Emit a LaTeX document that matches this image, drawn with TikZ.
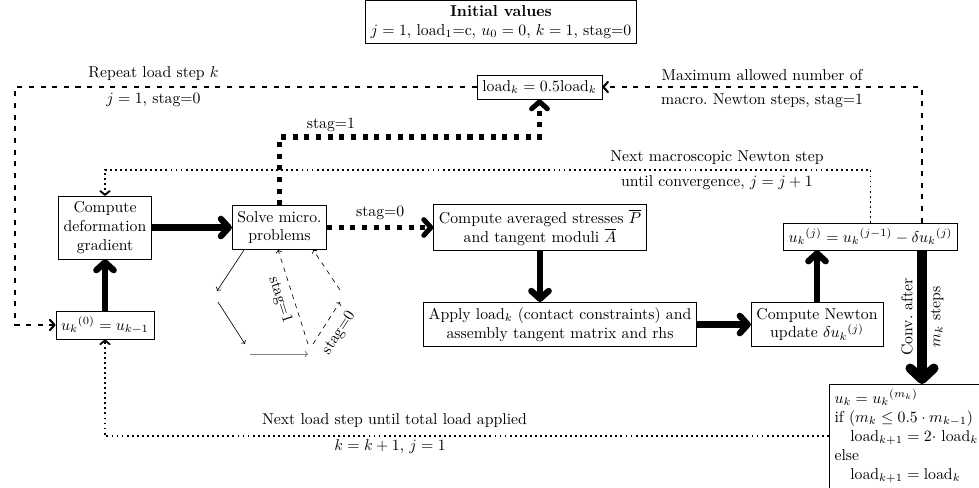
\documentclass[tikz,border=0pt]{standalone}
\usetikzlibrary{arrows.meta,calc}
\begin{document}
\begin{tikzpicture}[x=0.635pt, y=-0.635pt,
  box/.style={draw, thin, align=center, fill=white},
  flow/.style={line width=4pt, -{Straight Barb[length=5pt, width=11pt, round]}},
  convflow/.style={line width=6pt, -{Straight Barb[length=7pt, width=15pt, round]}},
  stagline/.style={line width=3.2pt, dash pattern=on 3.2pt off 4.2pt, -{Straight Barb[length=4.5pt, width=10pt, round]}},
  repeatline/.style={line width=1.3pt, dash pattern=on 3.2pt off 4.2pt, -{Straight Barb[length=3pt, width=6.5pt, round]}},
  loopline/.style={line width=1.2pt, dash pattern=on 1.2pt off 2pt, -{Straight Barb[length=2.5pt, width=6pt, round]}},
  microline/.style={thin, -{To[length=2pt, width=4pt]}},
  microdash/.style={thin, dashed, -{To[length=2pt, width=4pt]}}
]
\useasboundingbox (0,0) rectangle (979,487);

% process boxes
\node[box] (init) at (501,22) {\textbf{Initial values}\\ $j=1$, load$_1$=c, $u_0=0$, $k=1$, stag=0};
\node[box] (loadk) at (539.5,87) {$\mathrm{load}_k = 0.5\mathrm{load}_k$};
\node[box] (deform) at (105,227.5) {Compute\\deformation\\gradient};
\node[box] (solve) at (279.5,227.5) {Solve micro.\\problems};
\node[box] (avg) at (540,227.5) {Compute averaged stresses $\overline{P}$\\and tangent moduli $\overline{A}$};
\node[box] (apply) at (560,324.5) {Apply load$_k$ (contact constraints) and\\assembly tangent matrix and rhs};
\node[box] (newton) at (817,324.5) {Compute Newton\\update $\delta {u_k}^{(j)}$};
\node[box] (ukj) at (870.5,236.5) {${u_k}^{(j)} = {u_k}^{(j-1)} - \delta {u_k}^{(j)}$};
\node[box] (u0) at (105,325) {${u_k}^{(0)} = u_{k-1}$};
\node[box, align=left, anchor=north west, text width=100pt] (final) at (829,384)
  {$u_k = {u_k}^{(m_k)}$\\
   if $(m_k \le 0.5\cdot m_{k-1})$\\
   \hspace*{1em}$\mathrm{load}_{k+1} = 2\cdot$ load$_k$\\
   else\\
   \hspace*{1em}$\mathrm{load}_{k+1} = \mathrm{load}_k$};

% helper coordinates for routing
\coordinate (cx) at (922,0);
\coordinate (lx) at (15,0);
\coordinate (s1) at (400,137);
\coordinate (m1) at (500,170);

% main flow
\draw[flow] (u0) -- (deform);
\draw[flow] (deform) -- (solve);
\draw[flow] (avg.south) -- (avg.south |- apply.north);
\draw[flow] (apply) -- (newton);
\draw[flow] (newton.north) -- (newton.north |- ukj.south);
\draw[convflow] (ukj.south -| cx) -- coordinate (cmid) (final.north -| cx);
\node[rotate=90] at ($(cmid)+(-15,0)$) {Conv.\ after};
\node[rotate=90] at ($(cmid)+(15,0)$) {$m_k$ steps};

% staggered branches
\draw[stagline] (solve) -- node[above] {stag=0} (avg);
\draw[stagline] (solve.north) |- (s1) -| (loadk.south);
\node[above] at (331,137) {stag=1};

% load step control
\draw[repeatline] (ukj.north -| cx) |- (loadk.east)
  node[pos=0.75, above] {Maximum allowed number of}
  node[pos=0.75, below] {macro.\ Newton steps, stag=1};
\draw[repeatline] (loadk.west) -| (lx |- u0.west)
  node[pos=0.35, above] {Repeat load step $k$}
  node[pos=0.35, below] {$j=1$, stag=0}
  -- (u0.west);

% Newton iteration loop
\draw[loopline] (ukj.north) |- (m1) -| (deform.north);
\node[above] at (717,170) {Next macroscopic Newton step};
\node[below] at (717,170) {until convergence, $j=j+1$};

% next load step loop
\draw[loopline] (final.west) -| (u0.south);
\node[above] at (394.5,433.5) {Next load step until total load applied};
\node[below] at (390,433.5) {$k=k+1$, $j=1$};

% micro solver sketch
\coordinate (p1) at (244,250);
\coordinate (p2) at (217,291);
\coordinate (p3) at (218,302);
\coordinate (p4) at (245,344);
\coordinate (p5) at (250,354);
\coordinate (p6) at (308,354);
\coordinate (p7) at (308,344);
\coordinate (p8) at (313,344);
\coordinate (p9) at (340,302);
\coordinate (p10) at (340,290);
\draw[microline] (p1) -- (p2);
\draw[microline] (p3) -- (p4);
\draw[microline, gray, semithick] (p5) -- (p6);
\draw[microdash] (p7) -- (solve.south -| 278,0);
\draw[microdash] (p8) -- (p9);
\draw[microdash] (p10) -- (solve.south -| 313,0);
\node[rotate=-72] at (280,300) {stag=1};
\node[rotate=57] at (339,333) {stag=0};
\end{tikzpicture}
\end{document}
